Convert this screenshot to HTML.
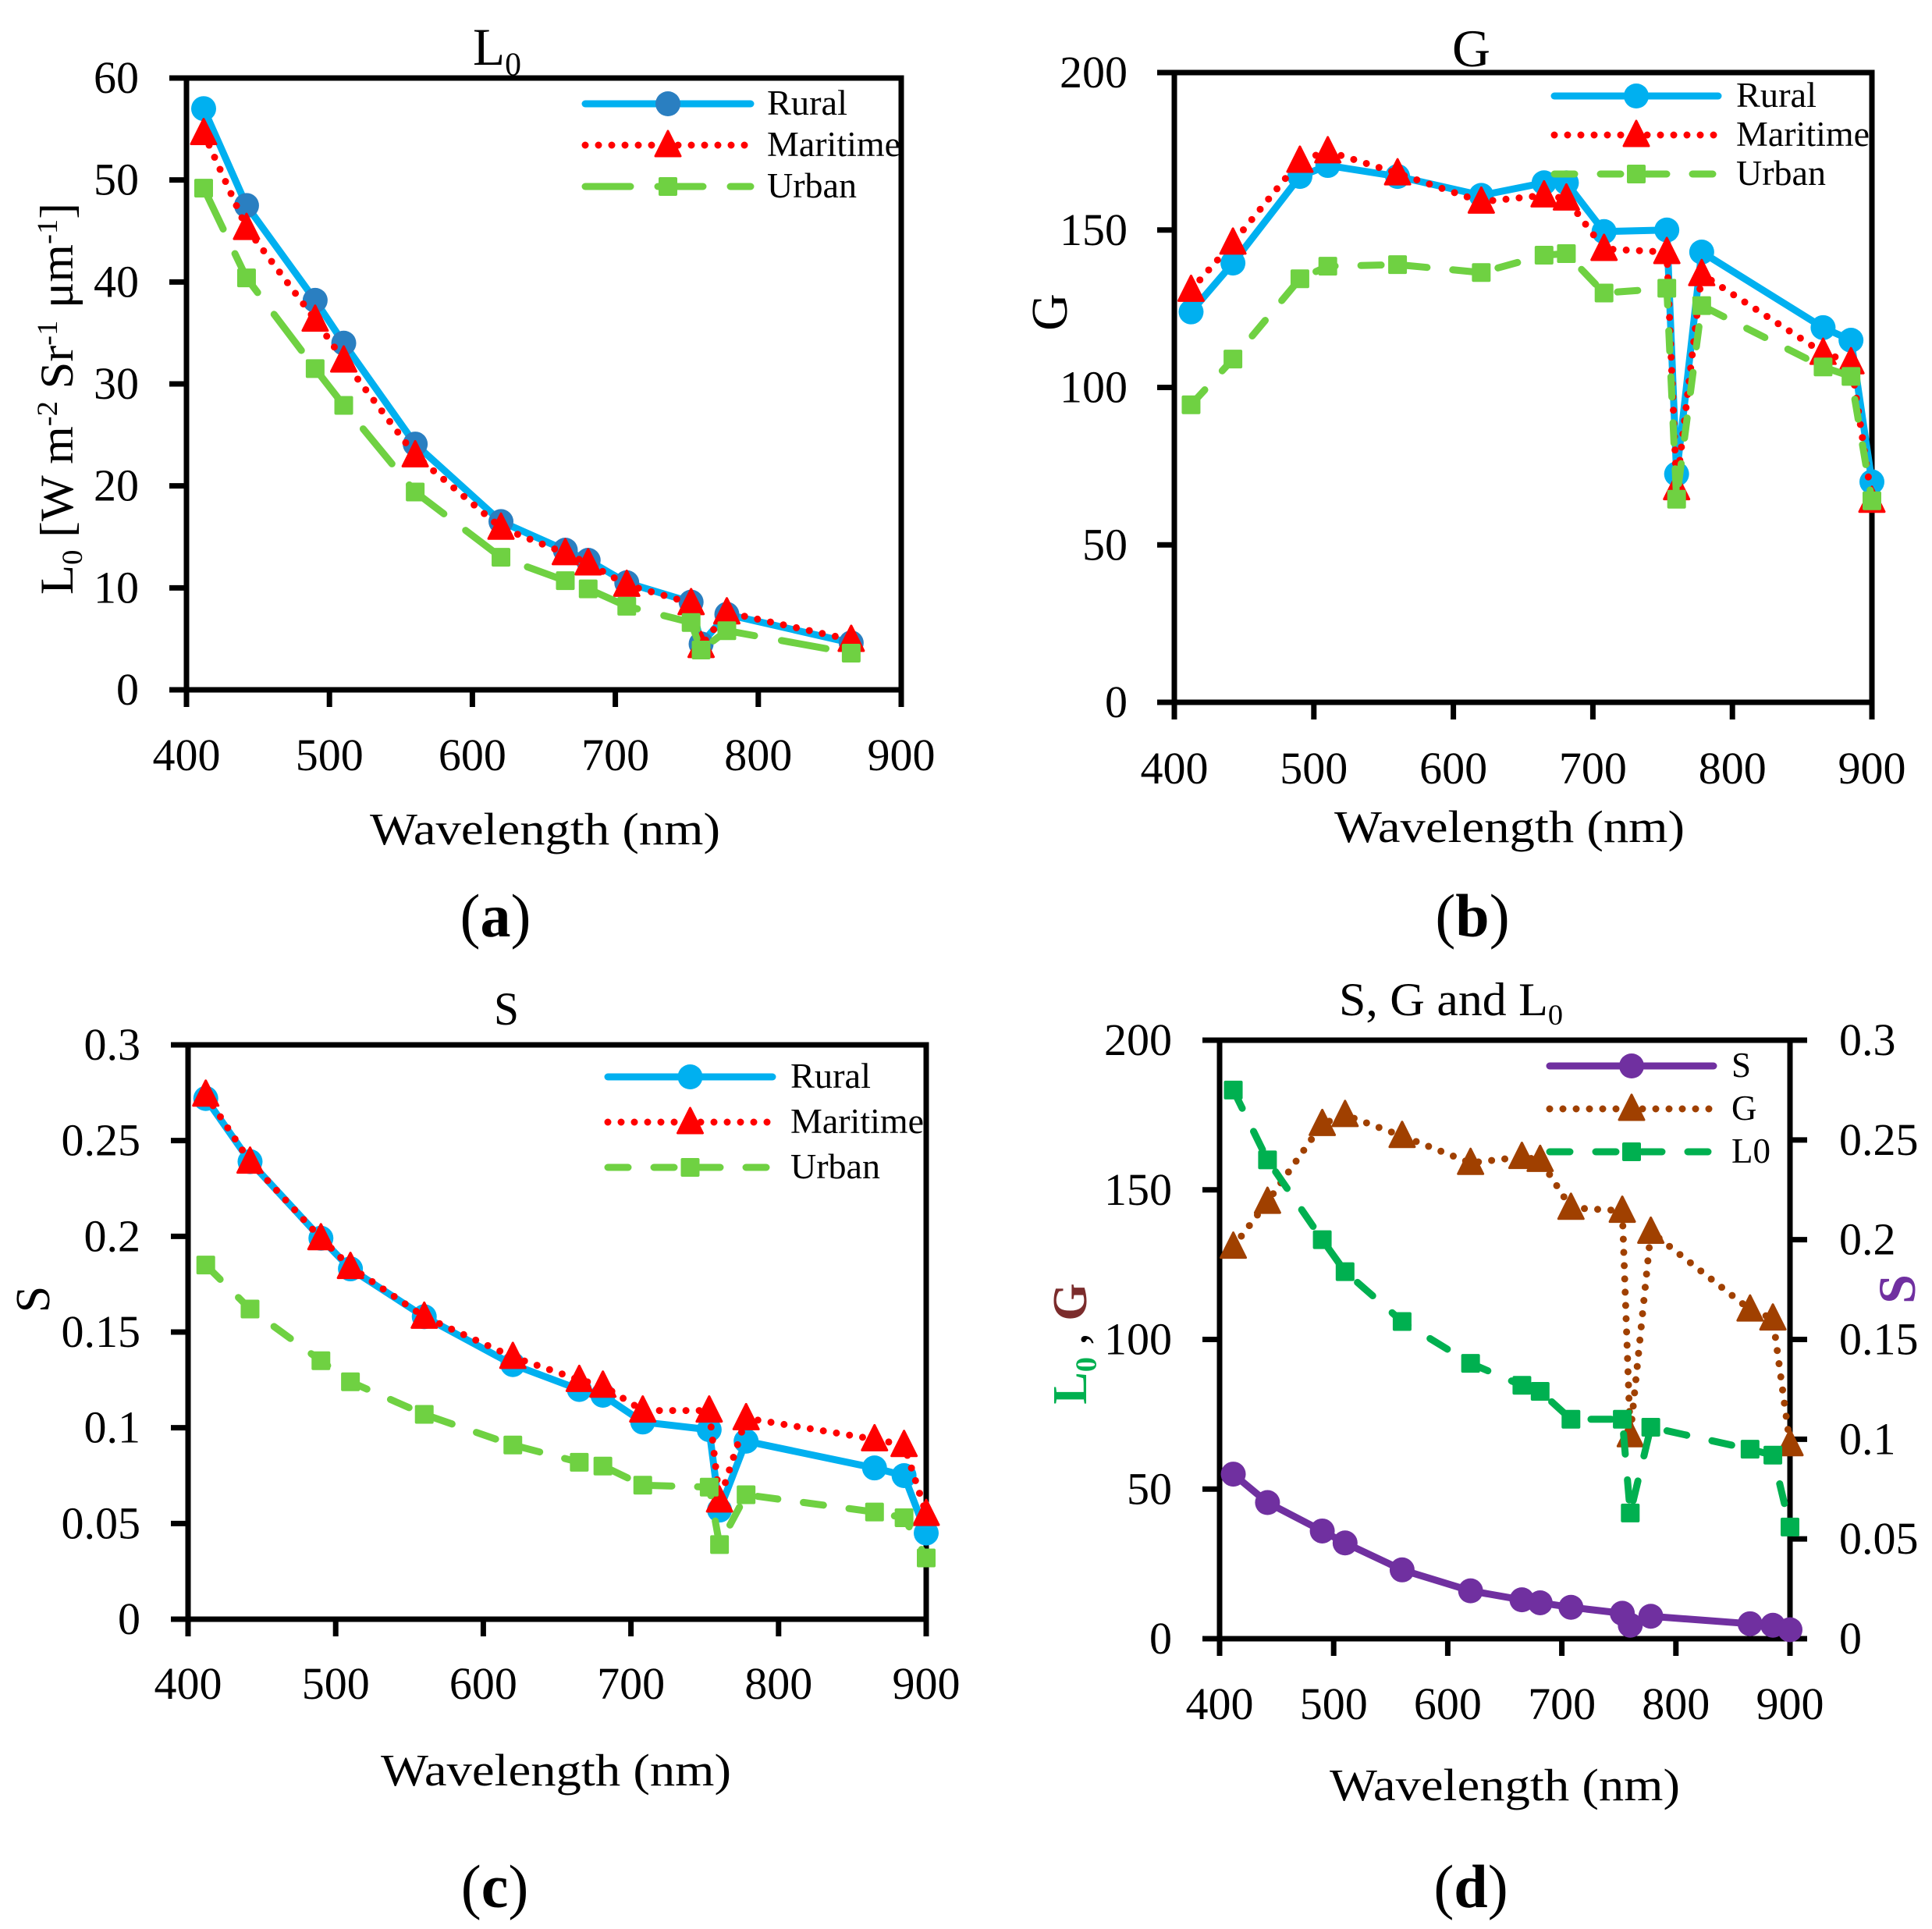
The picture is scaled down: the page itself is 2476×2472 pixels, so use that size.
<!DOCTYPE html>
<html lang="en">
<head>
<meta charset="utf-8">
<title>L0, G and S versus wavelength</title>
<style>
html,body{margin:0;padding:0;background:#fff;}
svg{display:block;}
text{font-family:"Liberation Serif","DejaVu Serif",serif;fill:#000;}
</style>
</head>
<body>
<svg id="figure" width="2476" height="2472" viewBox="0 0 2476 2472" xmlns="http://www.w3.org/2000/svg"></svg>
<script>
// ---- data ----
const wavelengths = [412,442,490,510,560,620,665,681,708,753,760,778,865,885,900];
const wavelengthsA = [412,442,490,510,560,620,665,681,708,753,760,778,865];
const xTickLabels = [400,500,600,700,800,900];
const l0TickLabels = [0,10,20,30,40,50,60];
const gTickLabels = [0,50,100,150,200];
const sTickLabels = [0,0.05,0.1,0.15,0.2,0.25,0.3];

const l0Rural = [57,47.5,38.2,34,24.1,16.5,13.7,12.7,10.5,8.6,4.5,7.4,4.6];
const l0Maritime = [54.6,45.3,36.3,32.3,23,15.9,13.4,12.4,10.3,8.5,4.3,7.6,4.9];
const l0Urban = [49.2,40.4,31.5,27.9,19.4,13,10.7,9.9,8.2,6.6,3.9,5.8,3.6];

const gRural = [124,139.5,167,170.5,167,161,165,165,149.5,150,72.5,143,119,115,70];
const gMaritime = [131,146,172,175,168,159,161,160,144,143,68,136,111,108,64];
const gUrban = [94.5,109,134.5,138.5,139,136.5,142,142.5,130,131.5,64.5,126,106.5,103.5,64];

const sRural = [0.272,0.239,0.199,0.183,0.158,0.133,0.12,0.117,0.103,0.099,0.057,0.093,0.079,0.075,0.045];
const sMaritime = [0.274,0.239,0.199,0.184,0.158,0.137,0.125,0.122,0.109,0.109,0.062,0.105,0.094,0.091,0.055];
const sUrban = [0.185,0.162,0.135,0.124,0.107,0.091,0.082,0.08,0.07,0.069,0.039,0.065,0.056,0.053,0.032];

const combinedPurple = [55,45.5,36,32,23,16,13,12,10.5,8.5,4.5,7.5,5,4.5,3];
const combinedBrown = [131,146,172,175,168,159,161,160,144,143,68,136,110,107,65];
const combinedGreen = [0.275,0.24,0.2,0.184,0.159,0.138,0.127,0.124,0.11,0.11,0.063,0.106,0.095,0.092,0.056];

// ---- drawing helpers ----
const NS = 'http://www.w3.org/2000/svg';
const fig = document.getElementById('figure');
function mk(parent, tag, attrs, txt){
  const el = document.createElementNS(NS, tag);
  for(const k in attrs) el.setAttribute(k, attrs[k]);
  if(txt !== undefined) el.textContent = txt;
  parent.appendChild(el);
  return el;
}
const BLUE='#00b0f0', RED='#ff0000', LIME='#6fd142', PURPLE='#7030a0', BROWN='#a04000', GREEN='#00b050';
const LW=9;
const AXW=7;

function marker(g, kind, cx, cy, color){
  let el;
  if(kind==='circle'){
    el = mk(g,'circle',{cx:cx,cy:cy,r:16,fill:color});
  } else if(kind==='triangle'){
    el = mk(g,'path',{d:`M${cx} ${cy-18}L${cx+16} ${cy+14}L${cx-16} ${cy+14}Z`,fill:color,stroke:color,'stroke-width':3,'stroke-linejoin':'round'});
  } else {
    el = mk(g,'rect',{x:cx-12,y:cy-12,width:24,height:24,rx:2,fill:color});
  }
  
  
  return el;
}
function lineStyle(kind, color, dash){
  const s = {fill:'none',stroke:color,'stroke-width':LW,'stroke-linecap':'round','stroke-linejoin':'round'};
  if(kind==='dot') s['stroke-dasharray']='0 17';
  if(kind==='dash') s['stroke-dasharray']=dash;
  return s;
}
function rich(parent, parts, attrs){
  const t = mk(parent,'text',attrs);
  const fs = parseFloat(attrs['font-size']);
  let shift = 0;
  parts.forEach(p=>{
    const a = {};
    let want = 0;
    if(p.sub){a['font-size']=fs*0.62; want=fs*0.2;}
    if(p.sup){a['font-size']=fs*0.62; want=-fs*0.33;}
    if(want!==shift){a.dy=want-shift; shift=want;}
    if(p.fill){a.style='fill:'+p.fill;}
    if(p.weight){a['font-weight']=p.weight;}
    const s = mk(t,'tspan',a,p.t);
    
    
  });
  return t;
}

function drawPanel(cfg){
  const g = mk(fig,'g',{});
  
  
  const xAxis = v => cfg.left + (v-400)/(900-400)*(cfg.right-cfg.left);
  const yAxis = v => cfg.bottom - v/cfg.ymax*(cfg.bottom-cfg.top);

  // x ticks
  xTickLabels.forEach(v=>{
    const px = xAxis(v);
    const tick = mk(g,'line',{x1:px,x2:px,y1:cfg.bottom,y2:cfg.bottom+22,stroke:'#000','stroke-width':AXW});
    
    
    const lab = mk(g,'text',{x:px,y:cfg.xLabelY,'font-size':58,'text-anchor':'middle'},String(v));
    
    
  });
  // y ticks
  cfg.yTicks.forEach(v=>{
    const py = yAxis(v);
    const tick = mk(g,'line',{x1:cfg.left-22,x2:cfg.left,y1:py,y2:py,stroke:'#000','stroke-width':AXW});
    
    
    const lab = mk(g,'text',{x:cfg.yLabelX,y:py+19,'font-size':58,'text-anchor':'end'},String(v));
    
    
  });
  // right axis ticks
  if(cfg.rightTicks){
    const yR = v => cfg.bottom - v/cfg.rightMax*(cfg.bottom-cfg.top);
    cfg.rightTicks.forEach(v=>{
      const py = yR(v);
      const tick = mk(g,'line',{x1:cfg.right,x2:cfg.right+22,y1:py,y2:py,stroke:'#000','stroke-width':AXW});
      
      
      const lab = mk(g,'text',{x:cfg.rightLabelX,y:py+19,'font-size':58,'text-anchor':'start'},String(v));
      
      
    });
  }
  // plot frame
  const frame = mk(g,'rect',{x:cfg.left,y:cfg.top,width:cfg.right-cfg.left,height:cfg.bottom-cfg.top,fill:'none',stroke:'#000','stroke-width':AXW});
  
  

  // series
  cfg.series.forEach(s=>{
    const sg = mk(g,'g',{});
    
    
    const yFn = s.rightAxis ? (v => cfg.bottom - v/cfg.rightMax*(cfg.bottom-cfg.top)) : yAxis;
    const pts = s.values.map((v,i)=>[xAxis(s.xs[i]), yFn(v)]);
    const line = mk(sg,'polyline',Object.assign({points:pts.map(p=>p.join(',')).join(' ')},lineStyle(s.line,s.color,cfg.dash)));
    
    
    pts.forEach((p,i)=>{
      const col = (s.markerColor && i>0) ? s.markerColor : s.color;
      marker(sg,s.marker,p[0],p[1],col);
    });
  });

  // legend
  const lg = mk(g,'g',{});
  
  
  cfg.series.forEach((s,i)=>{
    const ly = cfg.legendY[i];
    const entry = mk(lg,'g',{});
    
    
    const ln = mk(entry,'line',Object.assign({x1:cfg.legendX0,x2:cfg.legendX1,y1:ly,y2:ly},lineStyle(s.line,s.color,cfg.dash)));
    
    
    marker(entry,s.marker,(cfg.legendX0+cfg.legendX1)/2,ly,s.markerColor||s.color);
    const t = mk(entry,'text',{x:cfg.legendTextX,y:ly+14,'font-size':45},s.label);
    if(s.labelWidth) t.setAttribute('textLength', s.labelWidth);
    if(s.labelWidth) t.setAttribute('lengthAdjust', 'spacingAndGlyphs');
    
    
  });

  // x title
  const xt = mk(g,'text',{x:cfg.xTitle[0],y:cfg.xTitle[1],'font-size':58,textLength:449,lengthAdjust:'spacingAndGlyphs'},'Wavelength (nm)');
  
  

  // panel title
  const tt = rich(g,cfg.title.parts,{x:cfg.title.x,y:cfg.title.y,'font-size':cfg.title.size,textLength:cfg.title.w,lengthAdjust:'spacingAndGlyphs'});
  
  

  // y title(s)
  cfg.yTitles.forEach(o=>{
    const a = {transform:`translate(${o.x} ${o.y}) rotate(-90)`,'font-size':o.size,'text-anchor':'middle'};
    if(o.w){a.textLength=o.w; a.lengthAdjust='spacingAndGlyphs';}
    const yt = rich(g,o.parts,a);
    
    
  });

  // panel letter
  const pl = mk(g,'text',{x:cfg.letter.x,y:cfg.letter.y,'font-size':78,'text-anchor':'middle'});
  
  
  const p1 = mk(pl,'tspan',{},'(');
  
  
  const p2 = mk(pl,'tspan',{'font-weight':'bold'},cfg.letter.t);
  
  
  const p3 = mk(pl,'tspan',{},')');
  
  
}

drawPanel({
  name:'chart-l0', left:239, right:1155, top:100, bottom:884, ymax:60,
  yTicks:l0TickLabels, yLabelX:178, xLabelY:987, dash:'58 35',
  legendX0:750, legendX1:962, legendY:[133,186,239], legendTextX:983,
  xTitle:[474,1082],
  title:{parts:[{t:'L'},{t:'0',sub:true}],x:606,y:83,size:68,w:62},
  yTitles:[{parts:[{t:'L'},{t:'0',sub:true},{t:' [W m'},{t:'-2',sup:true},{t:' Sr'},{t:'-1',sup:true},{t:' μm'},{t:'-1',sup:true},{t:']'}],x:93,y:511,size:60,w:502}],
  letter:{x:635,y:1200,t:'a'},
  series:[
    {label:'Rural',xs:wavelengthsA,values:l0Rural,line:'solid',marker:'circle',color:BLUE,markerColor:'#2a7fc1',labelWidth:103},
    {label:'Maritime',xs:wavelengthsA,values:l0Maritime,line:'dot',marker:'triangle',color:RED,labelWidth:171},
    {label:'Urban',xs:wavelengthsA,values:l0Urban,line:'dash',marker:'square',color:LIME,labelWidth:115}
  ]
});

drawPanel({
  name:'chart-g', left:1505, right:2399, top:93, bottom:900, ymax:200,
  yTicks:gTickLabels, yLabelX:1445, xLabelY:1004, dash:'26 33',
  legendX0:1992, legendX1:2202, legendY:[123,173,223], legendTextX:2225,
  xTitle:[1710,1079],
  title:{parts:[{t:'G'}],x:1861,y:85,size:68,w:49},
  yTitles:[{parts:[{t:'G'}],x:1367,y:400,size:66}],
  letter:{x:1887,y:1200,t:'b'},
  series:[
    {label:'Rural',xs:wavelengths,values:gRural,line:'solid',marker:'circle',color:BLUE,labelWidth:103},
    {label:'Maritime',xs:wavelengths,values:gMaritime,line:'dot',marker:'triangle',color:RED,labelWidth:171},
    {label:'Urban',xs:wavelengths,values:gUrban,line:'dash',marker:'square',color:LIME,labelWidth:115}
  ]
});

drawPanel({
  name:'chart-s', left:241, right:1187, top:1339, bottom:2075, ymax:0.3,
  yTicks:sTickLabels, yLabelX:180, xLabelY:2177, dash:'26 33',
  legendX0:779, legendX1:990, legendY:[1380,1438,1496], legendTextX:1013,
  xTitle:[488,2288],
  title:{parts:[{t:'S'}],x:633,y:1313,size:60,w:32},
  yTitles:[{parts:[{t:'S'}],x:63,y:1665,size:62}],
  letter:{x:634,y:2444,t:'c'},
  series:[
    {label:'Rural',xs:wavelengths,values:sRural,line:'solid',marker:'circle',color:BLUE,labelWidth:103},
    {label:'Maritime',xs:wavelengths,values:sMaritime,line:'dot',marker:'triangle',color:RED,labelWidth:171},
    {label:'Urban',xs:wavelengths,values:sUrban,line:'dash',marker:'square',color:LIME,labelWidth:115}
  ]
});

drawPanel({
  name:'chart-combined', left:1563, right:2294, top:1333, bottom:2100, ymax:200,
  yTicks:gTickLabels, yLabelX:1502, xLabelY:2203, dash:'26 33',
  rightTicks:sTickLabels, rightMax:0.3, rightLabelX:2357,
  legendX0:1986, legendX1:2196, legendY:[1366,1421,1476], legendTextX:2219,
  xTitle:[1704,2307],
  title:{parts:[{t:'S, G and L'},{t:'0',sub:true}],x:1716,y:1301,size:60,w:287},
  yTitles:[
    {parts:[{t:'L',fill:GREEN,weight:'bold'},{t:'0',sub:true,fill:GREEN,weight:'bold'},{t:' , '},{t:'G',fill:'#7b2c2c',weight:'bold'}],x:1392,y:1722,size:62},
    {parts:[{t:'S',fill:PURPLE,weight:'bold'}],x:2454,y:1652,size:68}
  ],
  letter:{x:1885,y:2444,t:'d'},
  series:[
    {label:'S',xs:wavelengths,values:combinedPurple,line:'solid',marker:'circle',color:PURPLE},
    {label:'G',xs:wavelengths,values:combinedBrown,line:'dot',marker:'triangle',color:BROWN},
    {label:'L0',xs:wavelengths,values:combinedGreen,rightAxis:true,line:'dash',marker:'square',color:GREEN}
  ]
});
</script>
</body>
</html>
